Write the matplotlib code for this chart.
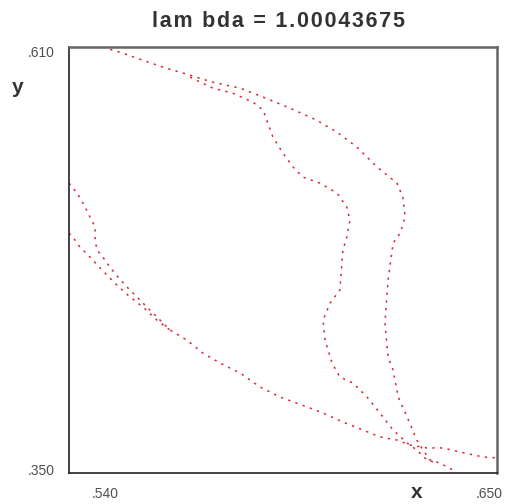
import matplotlib
matplotlib.use('Agg')
import matplotlib.pyplot as plt

# curves (data units)
outer_x = [0.5487, 0.5539, 0.5590, 0.5642, 0.5711, 0.5770, 0.5840, 0.5899, 0.5968, 0.6037,
           0.6089, 0.6140, 0.6192, 0.6243, 0.6258, 0.6264, 0.6251, 0.6233, 0.6220, 0.6212,
           0.6220, 0.6233, 0.6246, 0.6269, 0.6294, 0.6310, 0.6328, 0.6353, 0.6387]
outer_y = [0.6099, 0.6062, 0.6019, 0.5977, 0.5928, 0.5885, 0.5849, 0.5794, 0.5727, 0.5653,
           0.5580, 0.5489, 0.5367, 0.5269, 0.5184, 0.5062, 0.4964, 0.4903, 0.4677, 0.4415,
           0.4208, 0.4128, 0.3964, 0.3842, 0.3701, 0.3640, 0.3579, 0.3561, 0.3518]

inner_x = [0.5711, 0.5770, 0.5821, 0.5873, 0.5899, 0.5911, 0.5924, 0.5950, 0.5976, 0.6001,
           0.6045, 0.6089, 0.6114, 0.6122, 0.6114, 0.6104, 0.6096, 0.6071, 0.6053, 0.6058,
           0.6076, 0.6096, 0.6130, 0.6166, 0.6199, 0.6233, 0.6269, 0.6294, 0.6320, 0.6346]
inner_y = [0.5916, 0.5849, 0.5818, 0.5763, 0.5714, 0.5635, 0.5550, 0.5452, 0.5367, 0.5306,
           0.5269, 0.5208, 0.5123, 0.5043, 0.4940, 0.4860, 0.4616, 0.4537, 0.4433, 0.4311,
           0.4171, 0.4086, 0.4049, 0.3964, 0.3866, 0.3762, 0.3683, 0.3640, 0.3579, 0.3561]

left_x = [0.5400, 0.5421, 0.5436, 0.5454, 0.5467, 0.5467, 0.5472, 0.5487, 0.5505, 0.5526,
          0.5549, 0.5575, 0.5600, 0.5626, 0.5660, 0.5703, 0.5744, 0.5788, 0.5840, 0.5891,
          0.5942, 0.6012, 0.6053, 0.6104, 0.6156, 0.6199, 0.6243, 0.6276, 0.6320, 0.6361,
          0.6405, 0.6464, 0.6500]
left_y = [0.5269, 0.5208, 0.5147, 0.5062, 0.5001, 0.4921, 0.4860, 0.4818, 0.4757, 0.4696,
          0.4635, 0.4574, 0.4513, 0.4452, 0.4372, 0.4311, 0.4232, 0.4171, 0.4110, 0.4025,
          0.3964, 0.3903, 0.3866, 0.3811, 0.3762, 0.3720, 0.3701, 0.3671, 0.3653, 0.3653,
          0.3628, 0.3598, 0.3592]

left2_x = [0.5400, 0.5410, 0.5428, 0.5454, 0.5480, 0.5505, 0.5531, 0.5557, 0.5590, 0.5626, 0.5660]
left2_y = [0.4964, 0.4940, 0.4879, 0.4818, 0.4751, 0.4690, 0.4629, 0.4574, 0.4513, 0.4433, 0.4372]

x_min, x_max = 0.540, 0.650
y_min, y_max = 0.350, 0.610
title = 'lam bda = 1.00043675'

plt.rcParams['font.family'] = ['Liberation Sans', 'DejaVu Sans']

fig = plt.figure(figsize=(5.06, 5.04), dpi=100)
ax = fig.add_axes([0.1364, 0.0615, 0.8458, 0.8452])

red = '#d8101e'
for xs, ys in [(outer_x, outer_y), (inner_x, inner_y), (left_x, left_y), (left2_x, left2_y)]:
    ax.plot(xs, ys, color=red, lw=1.1, dashes=(1.5, 3.5), alpha=0.9, solid_capstyle='butt')

ax.set_xlim(x_min, x_max)
ax.set_ylim(y_min, y_max)
ax.set_xticks([])
ax.set_yticks([])
for side in ['left', 'bottom']:
    ax.spines[side].set_color('#222222')
    ax.spines[side].set_linewidth(1.2)
for side in ['top', 'right']:
    ax.spines[side].set_color('#666666')
    ax.spines[side].set_linewidth(1.8)

grey = '#505050'
ax.text(-0.033, 0.986, '.610', transform=ax.transAxes, ha='right', va='center', fontsize=10, color=grey)
ax.text(-0.033, 0.005, '.350', transform=ax.transAxes, ha='right', va='center', fontsize=10, color=grey)
ax.text(0.084, -0.05, '.540', transform=ax.transAxes, ha='center', va='center', fontsize=10, color=grey)
ax.text(1.014, -0.05, '.650', transform=ax.transAxes, ha='right', va='center', fontsize=10, color=grey)
ax.text(0.813, -0.045, 'x', transform=ax.transAxes, ha='center', va='center', fontsize=15,
        fontweight='bold', color='#333333')
ax.text(-0.119, 0.905, 'y', transform=ax.transAxes, ha='center', va='center', fontsize=15,
        fontweight='bold', color='#333333')
# letter-spaced title, as in the original
spaced = '\u200a'.join(title)
ax.text(0.49, 1.06, spaced, transform=ax.transAxes, ha='center', va='center', fontsize=15.5,
        fontweight='bold', color='#333333')

fig.savefig('out.png', dpi=100)
